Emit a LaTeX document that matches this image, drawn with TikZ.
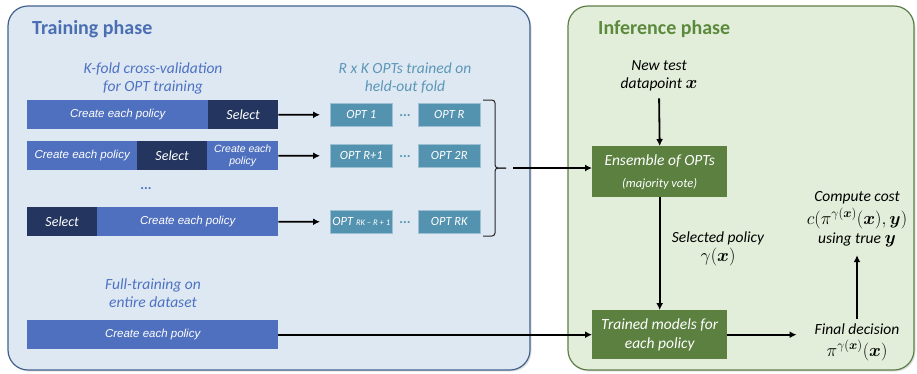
\documentclass[tikz,border=0pt]{standalone}
\usepackage{fix-cm}
\usepackage{amsmath}
\usepackage[no-math]{fontspec}
\setmainfont{Carlito}
\newfontfamily\barfont{Liberation Sans}
\usetikzlibrary{arrows.meta,shadows}

% formulas are set a little larger than the surrounding italic text
\newcommand{\bigmath}[1]{{\fontsize{18}{20}\selectfont$#1$}}

\definecolor{trainfill}{HTML}{DEE8F3}
\definecolor{trainline}{HTML}{41618C}
\definecolor{inffill}{HTML}{E2EEDA}
\definecolor{infline}{HTML}{5D7D47}
\definecolor{titleblue}{HTML}{4A6EB2}
\definecolor{titlegreen}{HTML}{5C8A3C}
\definecolor{labelblue}{HTML}{4D72C2}
\definecolor{labelteal}{HTML}{5B97B7}
\definecolor{createblue}{HTML}{4F70BE}
\definecolor{selectnavy}{HTML}{243660}
\definecolor{optteal}{HTML}{5493AF}
\definecolor{optedge}{HTML}{9CC0D2}
\definecolor{boxgreen}{HTML}{5B8040}
\definecolor{dotblue}{HTML}{4A6CC0}

\begin{document}
\begin{tikzpicture}[x=1pt,y=-1pt,
  panel/.style={rounded corners=20pt, line width=1.2pt,
    drop shadow={opacity=0.25, shadow xshift=1.5pt, shadow yshift=-1.5pt}},
  phasetitle/.style={font=\bfseries\fontsize{20}{24}\selectfont, inner sep=0pt, anchor=base west},
  txt/.style={font=\itshape\fontsize{15.5}{18}\selectfont, align=center, inner sep=1pt},
  createbox/.style={fill=createblue, text=white, font=\barfont\itshape\fontsize{11.5}{13}\selectfont,
    inner sep=0pt, minimum height=29pt, anchor=north west},
  selectbox/.style={fill=selectnavy, text=white, font=\itshape\fontsize{14}{16}\selectfont,
    inner sep=0pt, minimum height=29pt, minimum width=70pt, anchor=north west},
  optbox/.style={fill=optteal, draw=optedge, line width=0.6pt, text=white,
    font=\itshape\fontsize{12.5}{14}\selectfont,
    inner sep=0pt, minimum width=62pt, minimum height=23pt, anchor=north west},
  optdots/.style={text=optteal, font=\bfseries\fontsize{14}{16}\selectfont, inner sep=0pt},
  greenbox/.style={fill=boxgreen, text=white, font=\itshape\fontsize{15.5}{19}\selectfont,
    align=center, inner sep=0pt, minimum width=135pt, anchor=north west},
  arr/.style={line width=1.8pt, -{Latex[length=7pt,width=7pt]}},
  bracestyle/.style={line width=1pt, rounded corners=3pt, draw=black!85},
]
\useasboundingbox (0,0) rectangle (917,373);

% the two phase panels
\draw[panel, fill=trainfill, draw=trainline] (8,6) rectangle (530,370);
\draw[panel, fill=inffill, draw=infline] (568,6) rectangle (914,370);

\node[phasetitle, text=titleblue] (ttrain) at (32,34) {Training phase};
\node[phasetitle, text=titlegreen] (tinf) at (598,34) {Inference phase};

% training phase: cross-validation folds
\node[txt, text=labelblue] (kfold) at (153,78) {K-fold cross-validation\\for OPT training};
\node[txt, text=labelteal] (rxk) at (405,78) {R x K OPTs trained on\\held-out fold};

\node[createbox, minimum width=181pt] (c1) at (27,100) {Create each policy};
\node[selectbox] (s1) at (208,100) {Select};

\node[createbox, minimum width=110pt] (c2) at (27,141) {Create each policy};
\node[selectbox] (s2) at (137,141) {Select};
\node[createbox, minimum width=71pt, align=center,
  font=\barfont\itshape\fontsize{10.5}{12.5}\selectfont] (c2b) at (207,141) {Create each\\policy};

\node[text=dotblue, font=\bfseries\fontsize{14}{16}\selectfont, inner sep=0pt] (vdots) at (146,189) {...};

\node[selectbox] (s3) at (27,207) {Select};
\node[createbox, minimum width=181pt] (c3) at (97,207) {Create each policy};

% trained OPTs
\node[optbox] (o1) at (330,103) {OPT 1};
\node[optbox] (oR) at (418,103) {OPT R};
\node[optbox] (oR1) at (330,144) {OPT R+1};
\node[optbox] (o2R) at (418,144) {OPT 2R};
\node[optbox] (oK1) at (330,210) {OPT {\fontsize{8.5}{9}\selectfont RK -- R + 1}};
\node[optbox] (oRK) at (418,210) {OPT RK};
\node[optdots] (d1) at (405,116) {...};
\node[optdots] (d2) at (405,157) {...};
\node[optdots] (d3) at (405,223) {...};

\draw[arr, shorten >=10pt] (s1.east) -- (o1.west);
\draw[arr, shorten >=10pt] (c2b.east) -- (oR1.west);
\draw[arr, shorten >=10pt] (c3.east) -- (oK1.west);

% brace over all OPTs
\draw[bracestyle] (483,100) -| (495,168) -- (506,168);
\draw[bracestyle] (506,168) -| (495,236) -- (483,236);
\coordinate (bt) at (513,168);

% full training
\node[txt, text=labelblue] (full) at (153,293) {Full-training on\\entire dataset};
\node[createbox, minimum width=251pt] (cf) at (27,320) {Create each policy};

% inference phase
\node[txt] (nt) at (659,76) {New test\\datapoint \bigmath{\boldsymbol{x}}};
\node[greenbox, minimum height=51pt] (ens) at (592,146)
  {Ensemble of OPTs\\[3pt]{\fontsize{12.5}{14}\selectfont (majority vote)}};
\node[greenbox, minimum height=49pt] (tm) at (592,310) {Trained models for\\each policy};

\node[txt] (sp) at (718,249) {Selected policy\\[1pt]\bigmath{\gamma(\boldsymbol{x})}};
\node[txt, inner sep=2pt] (fd) at (857,342)
  {Final decision\\[4pt]\bigmath{\pi^{\gamma(\boldsymbol{x})}(\boldsymbol{x})}};
\node[txt, inner sep=2pt] (cc) at (857,219)
  {Compute cost\\[4pt]\bigmath{c(\pi^{\gamma(\boldsymbol{x})}(\boldsymbol{x}),\boldsymbol{y})}\\[1pt]using true \bigmath{\boldsymbol{y}}};

\draw[arr] (bt) -- (bt -| ens.west);
\draw[arr] (cf.east) -- (tm.west);
\draw[arr, shorten <=6pt] (nt.south) -- (ens.north);
\draw[arr] (ens.south) -- (tm.north);
\draw[arr, shorten >=16pt] (tm.east) -- (tm.east -| fd.west);
\draw[arr, shorten <=2pt, shorten >=6pt] (fd.north) -- (cc.south);
\end{tikzpicture}
\end{document}
